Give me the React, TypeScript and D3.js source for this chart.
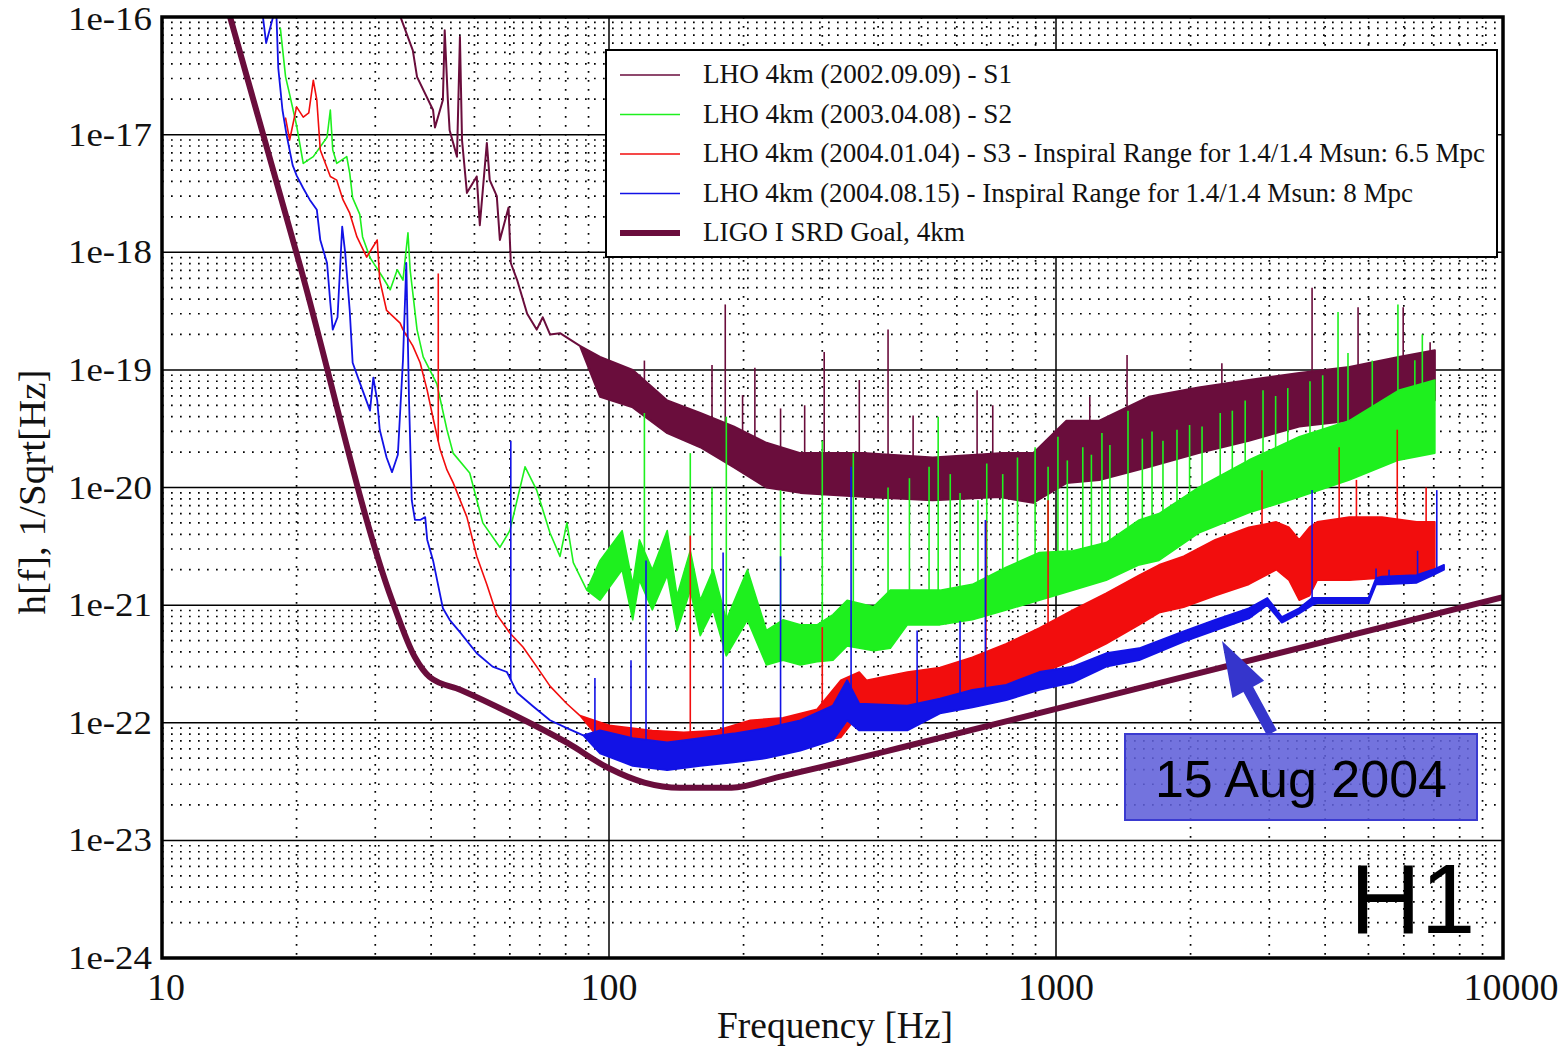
import React from "react";
import * as d3 from "d3";

type P2 = [number, number];
type P3 = [number, number, number];

const freqTicks = [10, 100, 1000, 10000];
const freqTickLabels = ["10", "100", "1000", "10000"];
const strainTicks = [1e-16, 1e-17, 1e-18, 1e-19, 1e-20, 1e-21, 1e-22, 1e-23, 1e-24];
const strainTickLabels = ["1e-16", "1e-17", "1e-18", "1e-19", "1e-20", "1e-21", "1e-22", "1e-23", "1e-24"];

// LIGO I SRD goal [Hz, strain]
const srdGoal: P2[] = [
  [14.2, 1e-16], [20.4, 7.5e-19], [32.7, 1.1e-21], [36.8, 3.6e-22], [39.7, 2.45e-22], [46.6, 1.9e-22],
  [60, 1.21e-22], [80.9, 6.7e-23], [100, 4.1e-23], [120, 3.1e-23], [144, 2.8e-23], [188, 2.8e-23],
  [239, 3.45e-23], [322, 4.5e-23], [446, 6.1e-23], [1000, 1.31e-22], [10000, 1.17e-21],
];

// S1
const s1Line: P2[] = [
  [33.7, 1.15e-16], [36.4, 5.2e-17], [37.2, 3.1e-17], [40.4, 1.62e-17], [40.8, 1.15e-17], [42.5, 1.97e-17],
  [42.9, 7.7e-17], [43.6, 1.97e-17], [44.0, 1.09e-17], [45.7, 6.5e-18], [46.4, 6.8e-17], [46.9, 9.0e-18],
  [48.1, 3.2e-18], [50.6, 4.4e-18], [51.4, 1.7e-18], [53.3, 8.5e-18], [54.1, 4.1e-18], [56.1, 3.0e-18],
  [57.0, 1.27e-18], [59.6, 2.4e-18], [60.3, 8.1e-19], [62.3, 5.8e-19], [65.6, 3.0e-19], [68.9, 2.2e-19],
  [71.1, 2.8e-19], [73.8, 2.0e-19], [77.7, 2.05e-19], [86.1, 1.6e-19],
];
const s1Band: P3[] = [
  [95.5, 5.9e-20, 1.29e-19], [113, 4.8e-20, 1.0e-19], [135, 2.9e-20, 5.5e-20], [160, 2.2e-20, 4.3e-20],
  [190, 1.49e-20, 3.3e-20], [225, 1.0e-20, 2.4e-20], [268, 9.0e-21, 1.96e-20], [377, 8.3e-21, 1.96e-20],
  [530, 7.8e-21, 1.8e-20], [748, 8.3e-21, 1.96e-20], [889, 7.4e-21, 1.96e-20], [1055, 1.09e-20, 3.7e-20],
  [1250, 1.16e-20, 3.7e-20], [1611, 1.49e-20, 5.9e-20], [2084, 1.96e-20, 7.1e-20], [2700, 2.5e-20, 8.2e-20],
  [3500, 3.3e-20, 9.4e-20], [4530, 3.7e-20, 1.06e-19], [5840, 4.3e-20, 1.29e-19], [7040, 5.5e-20, 1.47e-19],
];
const s1Spikes: P2[] = [
  [120, 1.2e-19], [170, 1.1e-19], [182, 3.6e-19], [199, 6.1e-20], [212, 1.04e-19], [242, 4.7e-20],
  [274, 5.0e-20], [303, 1.42e-19], [363, 8.2e-20], [421, 2.2e-19], [479, 4.1e-20], [666, 6.7e-20],
  [722, 5.0e-20], [1190, 5.9e-20], [1442, 1.34e-19], [2350, 1.14e-19], [3740, 5.0e-19], [4740, 3.4e-19],
  [5980, 3.4e-19], [6870, 1.72e-19],
];

// S2
const s2Line: P2[] = [
  [18.4, 8.0e-17], [18.9, 3.1e-17], [19.3, 2.2e-17], [20.0, 1.2e-17], [20.7, 5.7e-18], [21.8, 6.5e-18],
  [23.4, 9.5e-18], [23.8, 1.62e-17], [24.1, 7.4e-18], [24.6, 5.7e-18], [25.9, 6.5e-18], [26.3, 4.7e-18],
  [26.7, 2.9e-18], [27.7, 2.1e-18], [28.1, 1.35e-18], [29.2, 9.0e-19], [31.2, 6.1e-19], [32.4, 4.8e-19],
  [33.6, 7.1e-19], [34.6, 5.8e-19], [35.5, 1.46e-18], [35.9, 7.1e-19], [37.2, 2.2e-19], [38.4, 1.29e-19],
  [41.2, 7.6e-20], [43.4, 3.1e-20], [44.8, 1.96e-20], [48.8, 1.33e-20], [52.2, 5.0e-21], [57.0, 3.1e-21],
  [60.0, 4.3e-21], [64.9, 1.5e-20], [68.9, 9.5e-21], [73.8, 4.1e-21], [77.7, 2.6e-21], [80.5, 5.0e-21],
  [83.2, 2.3e-21], [89.2, 1.34e-21],
];
const s2Band: P3[] = [
  [95.5, 1.1e-21, 2.4e-21], [107, 2.0e-21, 4.3e-21], [113, 7.5e-22, 1.5e-21], [117, 1.63e-21, 3.6e-21],
  [125, 9.1e-22, 2.0e-21], [135, 1.8e-21, 4.3e-21], [142, 6.1e-22, 1.2e-21], [152, 1.34e-21, 2.9e-21],
  [160, 5.5e-22, 1.1e-21], [171, 9.1e-22, 2.0e-21], [183, 3.7e-22, 7.5e-22], [204, 7.5e-22, 2.0e-21],
  [225, 3.1e-22, 6.1e-22], [245, 3.4e-22, 7.5e-22], [268, 3.1e-22, 6.8e-22], [292, 3.3e-22, 6.8e-22],
  [317, 3.4e-22, 8.3e-22], [341, 4.5e-22, 1.1e-21], [391, 4.1e-22, 9.7e-22], [426, 4.3e-22, 1.34e-21],
  [465, 6.8e-22, 1.34e-21], [550, 6.8e-22, 1.34e-21], [650, 7.5e-22, 1.5e-21], [774, 9.1e-22, 2.1e-21],
  [918, 1.1e-21, 2.8e-21], [1091, 1.34e-21, 2.9e-21], [1295, 1.63e-21, 3.4e-21], [1535, 2.2e-21, 5.3e-21],
  [1700, 2.4e-21, 6.0e-21], [2084, 4.1e-21, 1.0e-20], [2700, 6.1e-21, 1.71e-20], [3500, 8.3e-21, 2.7e-20],
  [4530, 1.16e-20, 3.7e-20], [5840, 1.71e-20, 6.7e-20], [7040, 1.96e-20, 8.2e-20],
];
const s2Spikes: P2[] = [
  [120, 4.3e-20], [152, 1.96e-20], [170, 1.0e-20], [183, 4.0e-20], [242, 9.5e-21], [300, 2.5e-20],
  [352, 1.96e-20], [421, 1.0e-20], [470, 1.2e-20], [520, 1.5e-20], [545, 4.0e-20], [580, 1.3e-20],
  [610, 9.0e-21], [669, 7.8e-21], [700, 1.6e-20], [760, 1.3e-20], [820, 1.8e-20], [898, 2.2e-20],
  [960, 1.5e-20], [1010, 2.7e-20], [1060, 1.7e-20], [1148, 2.2e-20], [1200, 1.9e-20], [1267, 2.9e-20],
  [1320, 2.3e-20], [1449, 4.5e-20], [1560, 2.6e-20], [1640, 3.0e-20], [1735, 2.5e-20], [1865, 3.1e-20],
  [1990, 3.4e-20], [2122, 3.3e-20], [2330, 4.3e-20], [2480, 4.5e-20], [2650, 5.5e-20], [2905, 6.7e-20],
  [3100, 6.0e-20], [3300, 7.0e-20], [3700, 8.0e-20], [3950, 9.0e-20], [4275, 3.1e-19], [4500, 1.39e-19],
  [5100, 1.2e-19], [5820, 3.6e-19], [6350, 1.21e-19], [6600, 2.0e-19],
];

// S3
const s3Line: P2[] = [
  [18.9, 1.38e-17], [19.3, 9.0e-18], [20.0, 1.72e-17], [20.7, 1.41e-17], [21.3, 1.53e-17], [21.8, 2.9e-17],
  [22.2, 1.97e-17], [22.6, 7.4e-18], [23.8, 4.4e-18], [24.6, 4.1e-18], [25.4, 2.8e-18], [26.3, 2.15e-18],
  [27.3, 1.35e-18], [28.7, 9.1e-19], [30.3, 1.27e-18], [30.7, 5.8e-19], [31.8, 3.2e-19], [34.1, 2.5e-19],
  [34.6, 2.2e-19], [36.4, 1.6e-19], [37.8, 1.15e-19], [39.2, 6.7e-20], [40.4, 3.9e-20], [41.9, 2.1e-20],
  [43.4, 1.41e-20], [44.8, 1.1e-20], [48.1, 5.6e-21], [50.6, 2.6e-21], [53.3, 1.5e-21], [56.1, 8.3e-22],
  [60.0, 5.8e-22], [64.2, 4.4e-22], [68.9, 3.0e-22], [73.8, 2.05e-22], [80.5, 1.45e-22], [86.1, 1.15e-22],
];
const s3Band: P3[] = [
  [100, 5.8e-23, 9.5e-23], [125, 4.8e-23, 8.6e-23], [147, 4.8e-23, 8.3e-23], [174, 5.0e-23, 8.6e-23],
  [207, 5.5e-23, 1.05e-22], [245, 5.8e-23, 1.1e-22], [292, 6.9e-23, 1.3e-22], [330, 7.5e-23, 2.3e-22],
  [363, 1.2e-22, 2.7e-22], [377, 1.2e-22, 2.3e-22], [465, 1.2e-22, 2.7e-22], [550, 1.39e-22, 2.95e-22],
  [650, 1.56e-22, 3.6e-22], [774, 2.0e-22, 4.7e-22], [918, 2.6e-22, 6.4e-22], [1091, 3.4e-22, 9.1e-22],
  [1295, 4.7e-22, 1.26e-21], [1535, 6.8e-22, 1.8e-21], [1700, 8.6e-22, 2.2e-21], [1930, 9.6e-22, 2.6e-21],
  [2270, 1.2e-21, 3.6e-21], [2700, 1.5e-21, 4.6e-21], [3110, 2.0e-21, 5.1e-21], [3320, 1.63e-21, 4.6e-21],
  [3500, 1.1e-21, 3.6e-21], [3690, 1.2e-21, 4.6e-21], [3840, 1.63e-21, 5.1e-21], [4530, 1.63e-21, 5.6e-21],
  [5360, 1.7e-21, 5.6e-21], [6410, 1.8e-21, 5.1e-21], [7040, 1.9e-21, 5.1e-21],
];
const s3Spikes: P2[] = [
  [41.5, 6.6e-19], [152, 3.9e-21], [300, 6.5e-22], [697, 5.2e-21], [960, 7.8e-21], [2890, 1.4e-20],
  [4300, 2.2e-20], [4700, 1.16e-20], [5800, 3.1e-20], [6730, 1.0e-20],
];

// S4 (2004.08.15)
const s4Line: P2[] = [
  [16.7, 1.25e-16], [17.1, 6.0e-17], [17.4, 7.7e-17], [18.0, 1.25e-16], [18.2, 3.7e-17], [18.6, 1.62e-17],
  [19.0, 9.9e-18], [19.6, 5.5e-18], [20.0, 4.5e-18], [20.7, 3.5e-18], [21.4, 2.8e-18], [22.2, 2.3e-18],
  [22.6, 1.27e-18], [23.4, 8.1e-19], [23.8, 3.7e-19], [24.1, 2.2e-19], [24.7, 2.8e-19], [25.3, 1.65e-18],
  [25.7, 9.8e-19], [26.3, 3.2e-19], [26.7, 1.15e-19], [27.7, 7.8e-20], [29.2, 4.5e-20], [29.7, 8.6e-20],
  [30.3, 5.5e-20], [30.7, 3.1e-20], [31.8, 1.8e-20], [32.7, 1.35e-20], [33.7, 1.9e-20], [34.6, 1.21e-19],
  [35.2, 8.1e-19], [35.7, 5.5e-20], [36.2, 7.8e-21], [36.8, 5.3e-21], [37.8, 5.3e-21], [38.8, 5.6e-21],
  [39.2, 3.6e-21], [40.4, 2.4e-21], [42.5, 9.4e-22], [44.0, 7.5e-22], [46.4, 5.9e-22], [50.6, 3.9e-22],
  [54.9, 3.0e-22], [59.1, 2.7e-22], [62.3, 1.8e-22], [67.6, 1.38e-22], [73.8, 1.05e-22], [80.5, 9.0e-23],
  [87.6, 7.8e-23],
];
const s4Band: P3[] = [
  [95.5, 5.5e-23, 8.6e-23], [113, 4.3e-23, 7.4e-23], [135, 3.95e-23, 6.8e-23], [160, 4.3e-23, 7.4e-23],
  [190, 4.6e-23, 8.1e-23], [225, 5.0e-23, 9.0e-23], [268, 5.8e-23, 1.05e-22], [317, 7.1e-23, 1.4e-22],
  [341, 1.05e-22, 2.3e-22], [363, 8.6e-23, 1.45e-22], [465, 8.6e-23, 1.4e-22], [550, 1.2e-22, 1.6e-22],
  [650, 1.35e-22, 1.9e-22], [774, 1.56e-22, 2.1e-22], [918, 1.9e-22, 2.7e-22], [1091, 2.2e-22, 3.0e-22],
  [1295, 3.0e-22, 3.9e-22], [1535, 3.4e-22, 4.3e-22], [1930, 4.9e-22, 6.0e-22], [2270, 6.1e-22, 7.5e-22],
  [2700, 7.7e-22, 9.4e-22], [2970, 1.0e-21, 1.15e-21], [3200, 7.1e-22, 7.9e-22], [3500, 8.5e-22, 9.4e-22],
  [3740, 1.0e-21, 1.15e-21], [3840, 1.04e-21, 1.15e-21], [5000, 1.04e-21, 1.15e-21], [5200, 1.5e-21, 1.7e-21],
  [5360, 1.5e-21, 1.75e-21], [6410, 1.55e-21, 1.8e-21], [6970, 1.8e-21, 2.0e-21], [7380, 2.0e-21, 2.2e-21],
];
const s4Spikes: P2[] = [
  [60.3, 2.5e-20], [93, 2.4e-22], [112, 3.4e-22], [121, 2.4e-21], [180, 2.8e-21], [242, 2.6e-21],
  [348, 1.5e-20], [489, 6.1e-22], [610, 7.3e-22], [695, 5.3e-21], [3740, 9.5e-21], [5200, 2.05e-21],
  [5560, 2.0e-21], [6440, 2.9e-21], [7110, 9.5e-21],
];

const legendLabels = [
  "LHO 4km (2002.09.09) - S1",
  "LHO 4km (2003.04.08) - S2",
  "LHO 4km (2004.01.04) - S3 - Inspiral Range for 1.4/1.4 Msun: 6.5 Mpc",
  "LHO 4km (2004.08.15) - Inspiral Range for 1.4/1.4 Msun: 8 Mpc",
  "LIGO I SRD Goal, 4km",
];

const MAROON = "#6a0d3c";
const GREEN = "#1ef01e";
const RED = "#f20d0d";
const BLUE = "#1212e6";
const legendColors = [MAROON, GREEN, RED, BLUE, MAROON];
const legendWidths = [1.6, 1.6, 1.6, 1.6, 6];
const legendTextLen = [309, 309, 782, 710, 262];

const L = 162, R = 1503, T = 17, B = 958;

function buildTrace(line: P2[], band: P3[]): P3[] {
  return line.map(([f, v]) => [f, v, v] as P3).concat(band);
}

function hiAt(trace: P3[], f: number): number {
  for (let i = 0; i < trace.length - 1; i++) {
    const a = trace[i], b = trace[i + 1];
    if (f >= a[0] && f <= b[0]) {
      const t = (Math.log(f) - Math.log(a[0])) / (Math.log(b[0]) - Math.log(a[0]) || 1);
      return Math.exp(Math.log(a[2]) + t * (Math.log(b[2]) - Math.log(a[2])));
    }
  }
  return trace[trace.length - 1][2];
}

export default function App() {
  const x = d3.scaleLog().domain([10, 10000]).range([L, R]);
  const y = d3.scaleLog().domain([1e-24, 1e-16]).range([B, T]);

  const minorX: number[] = [];
  [10, 100, 1000].forEach((d) => { for (let k = 2; k <= 9; k++) minorX.push(k * d); });
  const minorY: number[] = [];
  for (let e = -24; e <= -17; e++) for (let k = 2; k <= 9; k++) minorY.push(k * Math.pow(10, e));

  const area = d3.area<P3>().x((d) => x(d[0])).y0((d) => y(d[1])).y1((d) => y(d[2]));
  const line = d3.line<P2>().x((d) => x(d[0])).y((d) => y(d[1])).curve(d3.curveMonotoneX);

  const series = [
    { trace: buildTrace(s1Line, s1Band), spikes: s1Spikes, color: MAROON, sw: 2 },
    { trace: buildTrace(s2Line, s2Band), spikes: s2Spikes, color: GREEN, sw: 1.6 },
    { trace: buildTrace(s3Line, s3Band), spikes: s3Spikes, color: RED, sw: 1.6 },
    { trace: buildTrace(s4Line, s4Band), spikes: s4Spikes, color: BLUE, sw: 1.8 },
  ];

  // arrow geometry (annotation)
  const tip: P2 = [1222, 641], tail: P2 = [1272, 733];
  const len = Math.hypot(tail[0] - tip[0], tail[1] - tip[1]);
  const u: P2 = [(tip[0] - tail[0]) / len, (tip[1] - tail[1]) / len];
  const n: P2 = [-u[1], u[0]];
  const hb: P2 = [tip[0] - u[0] * 55, tip[1] - u[1] * 55];
  const arrowPts: P2[] = [
    tip,
    [hb[0] + n[0] * 18, hb[1] + n[1] * 18],
    [hb[0] + n[0] * 5.5, hb[1] + n[1] * 5.5],
    [tail[0] + n[0] * 5.5, tail[1] + n[1] * 5.5],
    [tail[0] - n[0] * 5.5, tail[1] - n[1] * 5.5],
    [hb[0] - n[0] * 5.5, hb[1] - n[1] * 5.5],
    [hb[0] - n[0] * 18, hb[1] - n[1] * 18],
  ];

  const serif = "'Liberation Serif', 'DejaVu Serif', serif";
  const sans = "'Liberation Sans', Arial, sans-serif";

  return (
    <svg width={1562} height={1047} style={{ position: "absolute", left: 0, top: 0, background: "#fff" }}>
      <defs>
        <clipPath id="plotclip">
          <rect x={L} y={T} width={R - L} height={B - T} />
        </clipPath>
      </defs>
      <rect x={0} y={0} width={1562} height={1047} fill="#fff" />
      {/* minor grid */}
      <g stroke="#000" strokeWidth={1.7} strokeDasharray="1.7 7.3">
        {minorX.map((v) => (
          <line key={"mx" + v} x1={x(v)} x2={x(v)} y1={T} y2={B} />
        ))}
        {minorY.map((v, i) => (
          <line key={"my" + i} x1={L} x2={R} y1={y(v)} y2={y(v)} />
        ))}
      </g>
      {/* major grid */}
      <g stroke="#000" strokeWidth={1.5}>
        {freqTicks.slice(1, -1).map((v) => (
          <line key={"Mx" + v} x1={x(v)} x2={x(v)} y1={T} y2={B} />
        ))}
        {strainTicks.slice(1, -1).map((v) => (
          <line key={"My" + v} x1={L} x2={R} y1={y(v)} y2={y(v)} />
        ))}
      </g>
      {/* data */}
      <g clipPath="url(#plotclip)">
        {series.map((s, i) => (
          <g key={"s" + i}>
            <path d={area(s.trace) || ""} fill={s.color} stroke={s.color} strokeWidth={s.sw} strokeLinejoin="round" />
            {s.spikes.map(([f, top], j) => {
              const base = hiAt(s.trace, f);
              if (top <= base) return null;
              return (
                <line key={j} x1={x(f)} x2={x(f)} y1={y(base)} y2={y(top)} stroke={s.color} strokeWidth={1.6} />
              );
            })}
          </g>
        ))}
        <path d={line(srdGoal) || ""} fill="none" stroke={MAROON} strokeWidth={6} strokeLinejoin="round" />
      </g>
      {/* frame */}
      <rect x={L} y={T} width={R - L} height={B - T} fill="none" stroke="#000" strokeWidth={3.5} />
      {/* y tick labels */}
      {strainTicks.map((v, i) => (
        <text key={"yl" + i} x={152} y={y(v) + (i === 0 ? 13 : 11)} textAnchor="end" fontFamily={serif} fontSize={33} textLength={84} lengthAdjust="spacingAndGlyphs" fill="#111">
          {strainTickLabels[i]}
        </text>
      ))}
      {/* x tick labels */}
      {freqTicks.map((v, i) => (
        <text key={"xl" + i} x={x(v) + (i === 0 ? 4 : i === 3 ? 8 : 0)} y={1000} textAnchor="middle" fontFamily={serif} fontSize={38} fill="#111">
          {freqTickLabels[i]}
        </text>
      ))}
      <text x={835} y={1038} textAnchor="middle" fontFamily={serif} fontSize={37} textLength={236} lengthAdjust="spacingAndGlyphs" fill="#111">
        Frequency [Hz]
      </text>
      <text transform="translate(45,492) rotate(-90)" textAnchor="middle" fontFamily={serif} fontSize={37} textLength={245} lengthAdjust="spacingAndGlyphs" fill="#111">
        h[f], 1/Sqrt[Hz]
      </text>
      {/* legend */}
      <rect x={606} y={50} width={891} height={207} fill="#fff" stroke="#000" strokeWidth={2} />
      {legendLabels.map((lab, i) => {
        const cy = 75 + i * 39.5;
        return (
          <g key={"lg" + i}>
            <line x1={620} x2={680} y1={cy} y2={cy} stroke={legendColors[i]} strokeWidth={legendWidths[i]} />
            <text x={703} y={cy + 8} fontFamily={serif} fontSize={27} textLength={legendTextLen[i]} lengthAdjust="spacingAndGlyphs" fill="#111">
              {lab}
            </text>
          </g>
        );
      })}
      {/* annotation */}
      <polygon points={arrowPts.map((p) => p.join(",")).join(" ")} fill="#3535cc" />
      <rect x={1125} y={734} width={352} height={86} fill="rgb(96,96,218)" fillOpacity={0.88} stroke="#3a3ad0" strokeWidth={2} />
      <text x={1301} y={797} textAnchor="middle" fontFamily={sans} fontSize={52} fill="#000">
        15 Aug 2004
      </text>
      <text x={1350} y={933} fontFamily={sans} fontSize={98} fill="#000">
        H1
      </text>
    </svg>
  );
}
